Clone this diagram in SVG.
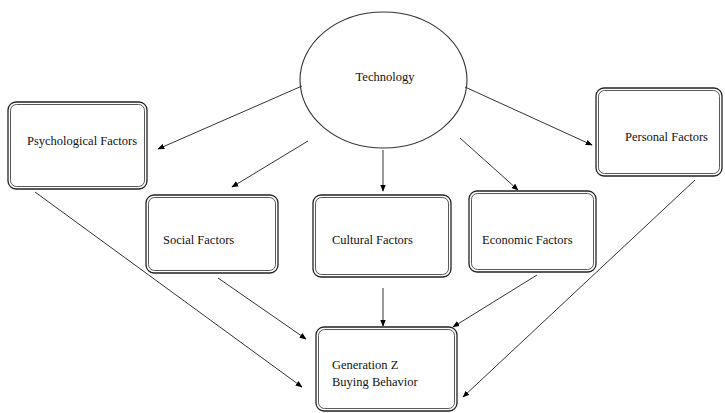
<svg xmlns="http://www.w3.org/2000/svg" width="725" height="413" viewBox="0 0 725 413">
<defs>
<marker id="ah" viewBox="0 0 10 10" refX="9" refY="5" markerWidth="7" markerHeight="7" markerUnits="userSpaceOnUse" orient="auto">
<path d="M0,1 L10,5 L0,9 z" fill="#000"/>
</marker>
</defs>
<style>
.o{fill:#fff;stroke:#222;stroke-width:1.3}
.i{fill:none;stroke:#444;stroke-width:0.9}
.t{font-family:"Liberation Serif","Times New Roman",serif;font-size:12.5px;fill:#111}
.c{stroke:#333;stroke-width:1;fill:none;marker-end:url(#ah)}
</style>
<rect width="725" height="413" fill="#fff"/>
<g id="technology">
<ellipse cx="383.5" cy="80" rx="83.5" ry="68" fill="#fff" stroke="#333" stroke-width="1.1"/>
<text class="t" x="385" y="81" text-anchor="middle">Technology</text>
</g>
<g id="psychological">
<rect class="o" x="8" y="102" width="139" height="87" rx="8"/>
<rect class="i" x="10.5" y="104.5" width="134" height="82" rx="6"/>
<text class="t" x="27" y="145">Psychological Factors</text>
</g>
<g id="social">
<rect class="o" x="146" y="195" width="132" height="78" rx="8"/>
<rect class="i" x="148.5" y="197.5" width="127" height="73" rx="6"/>
<text class="t" x="163" y="244">Social Factors</text>
</g>
<g id="cultural">
<rect class="o" x="313" y="195" width="138" height="82" rx="8"/>
<rect class="i" x="315.5" y="197.5" width="133" height="77" rx="6"/>
<text class="t" x="332" y="244">Cultural Factors</text>
</g>
<g id="economic">
<rect class="o" x="469" y="191" width="127" height="81" rx="8"/>
<rect class="i" x="471.5" y="193.5" width="122" height="76" rx="6"/>
<text class="t" x="482" y="244">Economic Factors</text>
</g>
<g id="personal">
<rect class="o" x="596" y="88" width="126" height="88" rx="8"/>
<rect class="i" x="598.5" y="90.5" width="121" height="83" rx="6"/>
<text class="t" x="625" y="141">Personal Factors</text>
</g>
<g id="genz">
<rect class="o" x="316" y="327" width="141" height="84" rx="8"/>
<rect class="i" x="318.5" y="329.5" width="136" height="79" rx="6"/>
<text class="t" x="332" y="369">Generation Z</text>
<text class="t" x="332" y="386">Buying Behavior</text>
</g>
<g id="connectors">
<line class="c" x1="302" y1="86" x2="158" y2="149"/>
<line class="c" x1="308" y1="141" x2="232" y2="187"/>
<line class="c" x1="383" y1="150" x2="383" y2="191"/>
<line class="c" x1="460" y1="138" x2="518" y2="190"/>
<line class="c" x1="465" y1="87" x2="592" y2="145"/>
<line class="c" x1="35" y1="192" x2="302" y2="387"/>
<line class="c" x1="218" y1="278" x2="306" y2="339"/>
<line class="c" x1="383" y1="288" x2="383" y2="326"/>
<line class="c" x1="537" y1="275" x2="453" y2="327"/>
<line class="c" x1="695" y1="180" x2="463" y2="397"/>
</g>
</svg>
